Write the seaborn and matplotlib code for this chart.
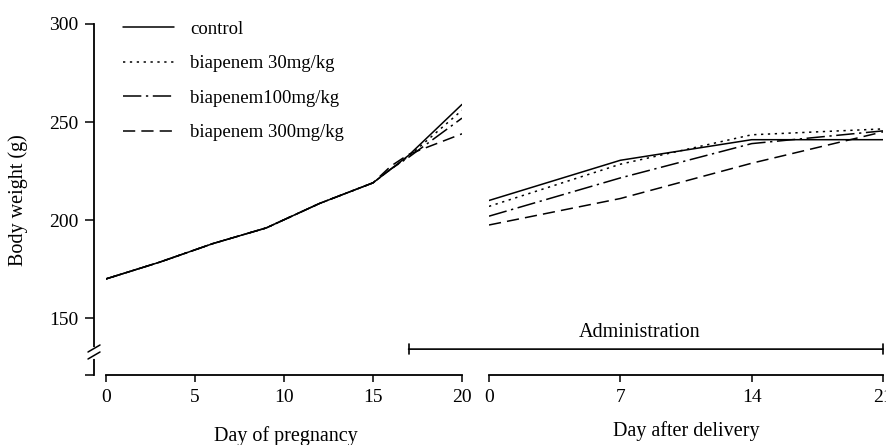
import pandas as pd
import matplotlib
matplotlib.use('Agg')
import matplotlib.pyplot as plt
from matplotlib.lines import Line2D
import seaborn as sns

# Data
groups = ['control', 'biapenem 30mg/kg', 'biapenem100mg/kg', 'biapenem 300mg/kg']

preg_days = [0, 3, 6, 9, 12, 15, 16, 17, 20]
preg_control = [170, 178.5, 188, 196, 208.5, 219, 226, 233, 259]
preg_b30 = [170, 178.5, 188, 196, 208.5, 219, 226, 232.5, 256]
preg_b100 = [170, 178.5, 188, 196, 208.5, 219, 226, 232, 252]
preg_b300 = [170, 178.5, 188, 196, 208.5, 219, 227.5, 233.5, 244]

deliv_days = [0, 7, 14, 21]
deliv_control = [210, 230.5, 241, 241]
deliv_b30 = [207, 228.5, 243.5, 246.5]
deliv_b100 = [202, 221.5, 239, 245.5]
deliv_b300 = [197.5, 211, 229, 245]

preg_ticks = [0, 5, 10, 15, 20]
deliv_ticks = [0, 7, 14, 21]
y_ticks = [150, 200, 250, 300]


def long_df(days, series):
    rows = []
    for g, vals in zip(groups, series):
        for d, v in zip(days, vals):
            rows.append({'day': d, 'weight': v, 'group': g})
    return pd.DataFrame(rows)


df_preg = long_df(preg_days, [preg_control, preg_b30, preg_b100, preg_b300])
df_deliv = long_df(deliv_days, [deliv_control, deliv_b30, deliv_b100, deliv_b300])

dash_map = {
    'control': '',
    'biapenem 30mg/kg': (1.5, 3.0),
    'biapenem100mg/kg': (12, 3, 1.5, 3),
    'biapenem 300mg/kg': (8, 4),
}

sns.set_theme(style='ticks')
plt.rcParams['font.family'] = ['Liberation Serif', 'DejaVu Serif']
plt.rcParams['text.color'] = 'black'

W, H = 886, 445
fig = plt.figure(figsize=(W / 100, H / 100), dpi=100)

ymin, ymax = 121, 300
top_px, bot_px = 24, 375


def ax_rect(x0, x1):
    return [x0 / W, (H - bot_px) / H, (x1 - x0) / W, (bot_px - top_px) / H]


ax_l = fig.add_axes(ax_rect(106, 462))
ax_r = fig.add_axes(ax_rect(489, 883))

for ax, df in [(ax_l, df_preg), (ax_r, df_deliv)]:
    sns.lineplot(data=df, x='day', y='weight', style='group', style_order=groups,
                 dashes=dash_map, color='black', linewidth=1.1, legend=False, ax=ax)
    ax.set_ylim(ymin, ymax)
    ax.set_xlabel('')
    ax.set_ylabel('')
    for s in ['top', 'right']:
        ax.spines[s].set_visible(False)
    ax.spines['bottom'].set_linewidth(1.3)
    ax.spines['bottom'].set_color('black')
    ax.tick_params(axis='x', direction='out', length=5, width=1.1, pad=5,
                   labelsize=14, colors='black')

ax_l.set_xlim(0, 20)
ax_l.set_xticks(preg_ticks)
ax_r.set_xlim(0, 21)
ax_r.set_xticks(deliv_ticks)

# y axis on the left panel only
ax_l.spines['left'].set_position(('outward', 8.6))
ax_l.spines['left'].set_linewidth(1.3)
ax_l.spines['left'].set_color('black')
ax_l.set_yticks([ymin] + y_ticks, [''] + [str(t) for t in y_ticks])
ax_l.tick_params(axis='y', direction='out', length=6.5, width=1.1, pad=5,
                 labelsize=14, colors='black')
ax_r.spines['left'].set_visible(False)
ax_r.set_yticks([])

# axis break on the y spine
def fx(x):
    return x / W


def fy(y):
    return 1 - y / H


fig.add_artist(Line2D([fx(94), fx(94)], [fy(349), fy(357)], color='white', lw=3))
fig.add_artist(Line2D([fx(88), fx(100)], [fy(352), fy(345)], color='black', lw=1.1))
fig.add_artist(Line2D([fx(88), fx(100)], [fy(359), fy(352)], color='black', lw=1.1))

# legend
handles = ax_l.get_lines()[:4]
ax_l.legend(handles, groups, loc='upper left', bbox_to_anchor=(0.0, 1.058),
            frameon=False, fontsize=13.5, handlelength=2.7, handletextpad=0.9,
            labelspacing=0.93, labelcolor='black')

# administration period bar
ax_r.annotate('', xy=(21, 134.2), xycoords=ax_r.transData,
              xytext=(17, 134.2), textcoords=ax_l.transData,
              arrowprops=dict(arrowstyle='|-|, widthA=0.3, widthB=0.3',
                              color='black', lw=1.2, shrinkA=0, shrinkB=0))
ax_r.text(8.05, 142.8, 'Administration', ha='center', va='center',
          fontsize=14.5, color='black')

fig.text(fx(286), fy(436), 'Day of pregnancy', ha='center', va='center',
         fontsize=14.5, color='black')
fig.text(fx(686), fy(431), 'Day after delivery', ha='center', va='center',
         fontsize=14.5, color='black')
fig.text(fx(18), fy(200), 'Body weight (g)', ha='center', va='center',
         rotation=90, fontsize=14.5, color='black')

fig.savefig('out.png', dpi=100)
